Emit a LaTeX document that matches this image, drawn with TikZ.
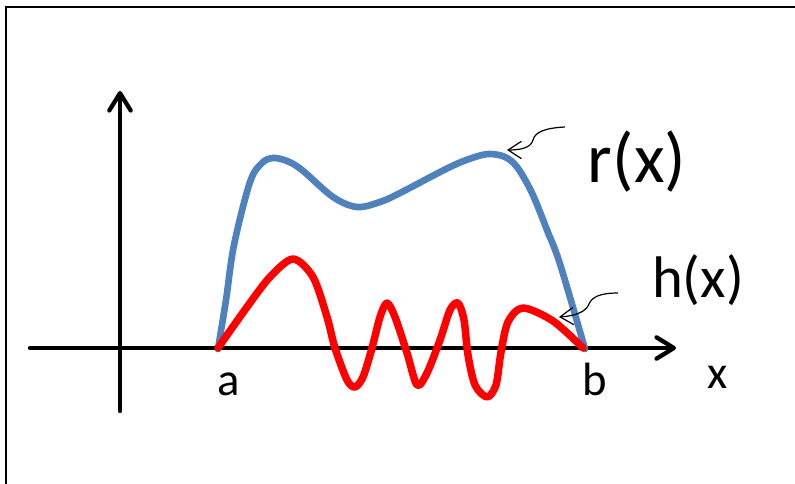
\documentclass[tikz,border=0pt]{standalone}
\usepackage{fontspec}
\setmainfont{Carlito}
\usetikzlibrary{arrows.meta}

\definecolor{rblue}{HTML}{4F81BD}

\begin{document}
\begin{tikzpicture}[
    x=0.75pt, y=-0.75pt,
    axis/.style={line width=3.2pt, line cap=round, -{Straight Barb[length=13pt,width=16pt,line cap=round,line join=round]}},
    curve/.style={line width=5pt, line cap=round, line join=round},
    pointer/.style={line width=0.9pt, -{Straight Barb[length=10pt,width=13pt]}},
    lab/.style={anchor=base, inner sep=0pt, font=\fontsize{35}{40}\selectfont},
    fname/.style={anchor=base, inner sep=0pt}
  ]
    \useasboundingbox (0,0) rectangle (795,484);
    % frame
    \draw[line width=1.6pt] (6,490) -- (6,7) -- (800,7);

    % axes
    \coordinate (x0) at (30,348);
    \coordinate (x1) at (676,348);
    \coordinate (y0) at (120,411);
    \coordinate (y1) at (120,91);
    \draw[axis] (x0) -- (x1);
    \draw[axis] (y0) -- (y1);

    % r(x)
    \draw[curve, rblue] plot[smooth, tension=0.55] coordinates {
      (218,349) (226,300) (234,245) (250,182) (262,163) (273,158) (287,161)
      (302,170) (333,197) (357,207) (380,202) (400,193) (450,167) (475,157)
      (490,154) (505,157) (517,167) (532,193) (547,230) (560,264) (585,349)};

    % h(x)
    \draw[curve, red, line width=5.6pt] plot[smooth, tension=0.5] coordinates {
      (218,348) (247,307) (270,277) (293,259) (313,277) (327,317) (335,348)
      (347,380) (355,387) (363,377) (372,348) (380,317) (387,303) (395,317)
      (407,353) (417,385) (427,373) (440,340) (450,310) (458,303) (464,320)
      (468,355) (475,385) (487,397) (496,385) (501,352) (508,322) (523,308)
      (553,321) (583,348)};

    % labels
    \node[lab] (la) at (229,395) {a};
    \node[lab] (lb) at (595,395) {b};
    \node[lab] (lx) at (718,388) {x};
    \node[fname, font=\fontsize{53}{56}\selectfont] (lr) at (637,183) {r(x)};
    \node[fname, font=\fontsize{44}{48}\selectfont] (lh) at (698,297) {h(x)};

    % pointers
    \coordinate (rtail) at (565,127);
    \coordinate (rtip) at (507,150);
    \coordinate (htail) at (618,293);
    \coordinate (htip) at (559,317);
    \draw[pointer] (rtail) .. controls (545,128) and (535,132) .. (533,140)
      .. controls (531,148) and (520,150) .. (rtip);
    \draw[pointer] (htail) .. controls (600,293) and (592,297) .. (589,304)
      .. controls (586,312) and (575,316) .. (htip);
\end{tikzpicture}
\end{document}
